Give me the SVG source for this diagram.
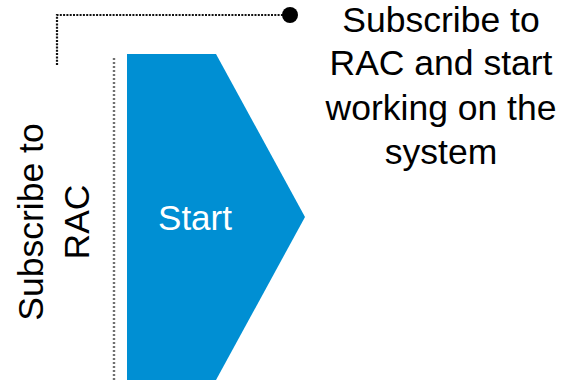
<svg xmlns="http://www.w3.org/2000/svg" width="577" height="383" viewBox="0 0 577 383">
<style>
.t{font-family:"Liberation Sans",Arial,sans-serif;font-size:35.5px;fill:#000;text-anchor:middle}
.w{font-family:"Liberation Sans",Arial,sans-serif;font-size:35px;fill:#fff;text-anchor:middle}
.dot{fill:none;stroke-width:2.2;stroke-dasharray:2 1.3}
.dot2{fill:none;stroke-width:2.4;stroke-dasharray:2 2}
</style>
<rect width="577" height="383" fill="#fff"/>
<g id="connectors">
<path class="dot" d="M57 65 V15 H288" stroke="#111"/>
<circle cx="290" cy="15" r="8" fill="#000"/>
<path class="dot2" d="M114 58 V380" stroke="#707070"/>
</g>
<g id="start">
<polygon points="127,54 216,54 305,217 216,380 127,380" fill="#008FD3"/>
<text class="w" x="195" y="230">Start</text>
</g>
<g id="label-top">
<text class="t" x="441" y="32">Subscribe to</text>
<text class="t" x="441" y="75">RAC and start</text>
<text class="t" x="441" y="120">working on the</text>
<text class="t" x="441" y="164">system</text>
</g>
<g id="label-side" transform="translate(0,222) rotate(-90)">
<text class="t" x="0" y="43">Subscribe to</text>
<text class="t" x="0" y="89">RAC</text>
</g>
</svg>
